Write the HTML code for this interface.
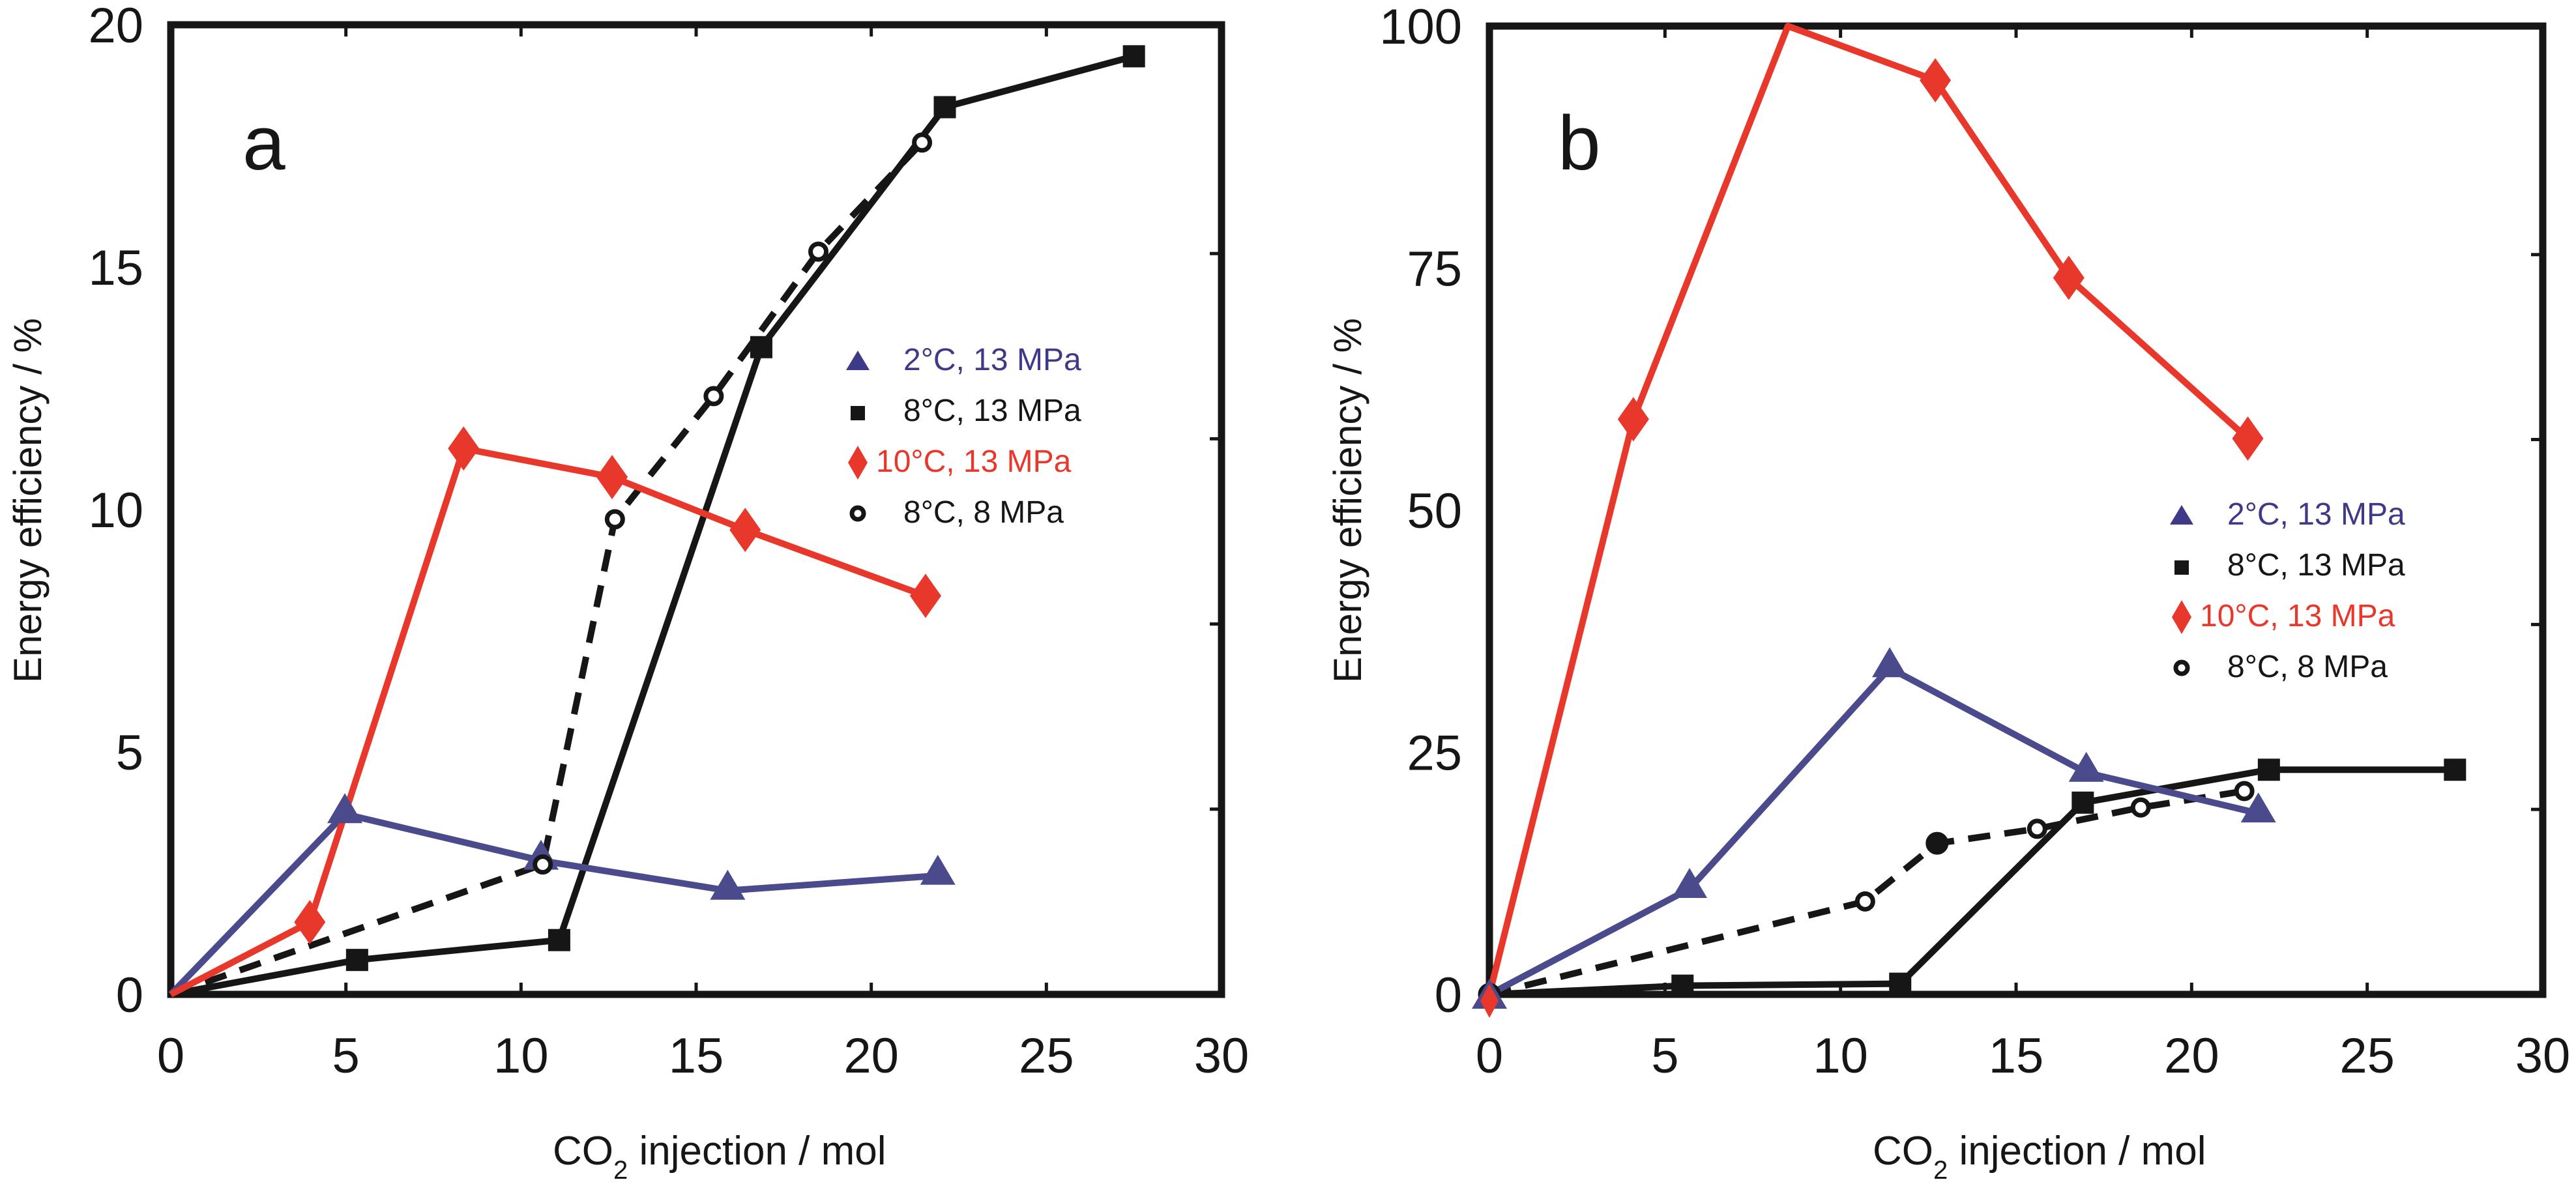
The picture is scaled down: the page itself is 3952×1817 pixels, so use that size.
<!DOCTYPE html>
<html><head><meta charset="utf-8"><style>
html,body{margin:0;padding:0;background:#fff}
svg{display:block}
text{font-family:"Liberation Sans",sans-serif}
</style></head><body>
<svg id="chart" width="3952" height="1817" viewBox="0 0 3952 1817" xmlns="http://www.w3.org/2000/svg"></svg>
<script>
// Panel a data
const aBlueX=[0,4.97,10.57,15.9,21.9];
const aBlueY=[0,3.72,2.76,2.14,2.45];
const aSqX=[0,5.32,11.09,16.86,22.1,27.5];
const aSqY=[0,0.71,1.12,13.35,18.3,19.35];
const aRedX=[0,3.97,8.36,12.6,16.4,21.55];
const aRedY=[0,1.49,11.26,10.67,9.58,8.22];
const aCirX=[0,10.62,12.68,15.5,18.49,21.45];
const aCirY=[0,2.68,9.8,12.34,15.32,17.57];
// Panel b data
const bRedX=[0,4.1,8.5,12.7,16.5,21.6];
const bRedY=[0,59.4,100,94.4,74,57.4];
const bRedMarked=[1,1,0,1,1,1];
const bBlueX=[0,5.7,11.4,17.0,21.9];
const bBlueY=[0,10.9,33.7,22.9,18.7];
const bSqX=[0,5.5,11.7,16.9,22.2,27.5];
const bSqY=[0,0.9,1.1,19.8,23.2,23.2];
const bCirX=[0,10.7,12.75,15.6,18.55,21.5];
const bCirY=[0,9.6,15.6,17.1,19.3,21.0];
const bCirFilled=[1,0,1,0,0,0];
const xTicks=[0,5,10,15,20,25,30];
const aYTicks=[0,5,10,15,20];
const bYTicks=[0,25,50,75,100];
const legendLabels=["2°C, 13 MPa","8°C, 13 MPa","10°C, 13 MPa","8°C,  8 MPa"];

const NS="http://www.w3.org/2000/svg";
const svg=document.getElementById('chart');
const BLUE="#4a4a8c", BLUEM="#3f3a88", RED="#e8382c", BLK="#161616";
function mk(tag,attrs,parent){const e=document.createElementNS(NS,tag);for(const k in attrs)e.setAttribute(k,attrs[k]);(parent||svg).appendChild(e);return e;}

function panel(p){
  const g=mk('g',{});
  
  
  const L=p.L,R=p.R,T=p.T,B=p.B;
  const sx=v=>L+(v-0)/30*(R-L);
  const sy=v=>B-v/p.ymax*(B-T);
  xTicks.forEach(t=>{
    const x=sx(t);
    const tk=mk('path',{d:`M${x},${B}v-18M${x},${T}v18`,stroke:BLK,'stroke-width':5},g);
    
    
    const tl=mk('text',{x:x,y:B+120,'font-size':76,'text-anchor':'middle',fill:BLK},g);
    
    
    tl.textContent=t;
  });
  p.yt.forEach(t=>{
    const y=sy(t);
    const tl=mk('text',{x:L-42,y:y+27,'font-size':76,'text-anchor':'end',fill:BLK},g);
    
    
    tl.textContent=t;
  });
  [0.191,0.382,0.573,0.764].forEach(f=>{
    const y=B-f*(B-T);
    const tk=mk('path',{d:`M${R},${y}h-18`,stroke:BLK,'stroke-width':5},g);
    
    
  });
  const fr=mk('rect',{x:L,y:T,width:R-L,height:B-T,fill:'none',stroke:BLK,'stroke-width':11},g);
  
  
  function line(xs,ys,color,dash,name){
    const pl=mk('polyline',{points:xs.map((x,i)=>sx(x)+','+sy(ys[i])).join(' '),fill:'none',stroke:color,'stroke-width':10,'stroke-linejoin':'round','stroke-dasharray':dash||'none'},g);
    
    
  }
  function tri(x,y,c,gg){const e=mk('path',{d:`M${x},${y-32}L${x+27},${y+14}L${x-27},${y+14}Z`,fill:c},gg);}
  function sq(x,y,gg,s){s=s||34;const e=mk('rect',{x:x-s/2,y:y-s/2,width:s,height:s,fill:BLK},gg);}
  function dia(x,y,gg,w,h){w=w||24;h=h||34;const e=mk('path',{d:`M${x},${y-h}L${x+w},${y}L${x},${y+h}L${x-w},${y}Z`,fill:RED},gg);}
  function cir(x,y,filled,gg,r){r=r||12;const e=mk('circle',{cx:x,cy:y,r:filled?14:r,fill:filled?BLK:'#fff',stroke:BLK,'stroke-width':7},gg);}
  const d=p.d;
  line(d.cx,d.cy,BLK,'34 22','series-8c-8mpa-line');
  line(d.sx_,d.sy_,BLK,null,'series-8c-13mpa-line');
  line(d.bx,d.by,BLUE,null,'series-2c-13mpa-line');
  line(d.rx,d.ry,RED,null,'series-10c-13mpa-line');
  d.bx.forEach((x,i)=>{if(i>0)tri(sx(x),sy(d.by[i]),BLUE,g);});
  d.sx_.forEach((x,i)=>{if(i>0)sq(sx(x),sy(d.sy_[i]),g);});
  d.rx.forEach((x,i)=>{if(i>0&&(!d.rm||d.rm[i]))dia(sx(x),sy(d.ry[i]),g);});
  d.cx.forEach((x,i)=>{if(i>0||p.id==='b')cir(sx(x),sy(d.cy[i]),d.cf?d.cf[i]:0,g);});
  if(p.id==='b'){tri(sx(0),sy(0)+8,BLUE,g);dia(sx(0),sy(0)+10,g,14,26);}
  const pl=mk('text',{x:p.lx,y:p.ly,'font-size':118,fill:BLK},g);
  
  
  pl.textContent=p.id;
  const yt=mk('text',{x:0,y:0,'font-size':60,'text-anchor':'middle',fill:BLK,transform:`translate(${p.ytx},${p.yty}) rotate(-90)`,textLength:560,lengthAdjust:'spacingAndGlyphs'},g);
  
  
  yt.textContent='Energy efficiency / %';
  const xt=mk('text',{x:p.xtx,y:1787,'font-size':62,fill:BLK},g);
  
  
  xt.innerHTML='CO<tspan font-size="40" dy="22">2</tspan><tspan dy="-22"> injection / mol</tspan>';
  const lg=mk('g',{},g);
  
  
  const cols=[BLUEM,BLK,RED,BLK];
  legendLabels.forEach((lab,i)=>{
    const y=p.legY+i*78;
    const mx=p.legX;
    if(i===0){const e=mk('path',{d:`M${mx},${y-30}L${mx+18},${y}L${mx-18},${y}Z`,fill:BLUEM},lg);}
    if(i===1)sq(mx,y-12,lg,22);
    if(i===2)dia(mx,y-14,lg,15,26);
    if(i===3)cir(mx,y-14,0,lg,9);
    const t=mk('text',{x:i===2?mx+28:mx+70,y:y,'font-size':48,fill:cols[i]},lg);
    
    
    t.textContent=lab;
  });
}
panel({id:'a',L:262,R:1874,T:38,B:1526,ymax:20,yt:aYTicks,lx:372,ly:260,ytx:63,yty:768,xtx:848,legX:1316,legY:568,
  d:{bx:aBlueX,by:aBlueY,sx_:aSqX,sy_:aSqY,rx:aRedX,ry:aRedY,cx:aCirX,cy:aCirY}});
panel({id:'b',L:2285,R:3901,T:40,B:1526,ymax:100,yt:bYTicks,lx:2390,ly:260,ytx:2088,yty:768,xtx:2873,legX:3347,legY:805,
  d:{bx:bBlueX,by:bBlueY,sx_:bSqX,sy_:bSqY,rx:bRedX,ry:bRedY,rm:bRedMarked,cx:bCirX,cy:bCirY,cf:bCirFilled}});
</script>
</body></html>
